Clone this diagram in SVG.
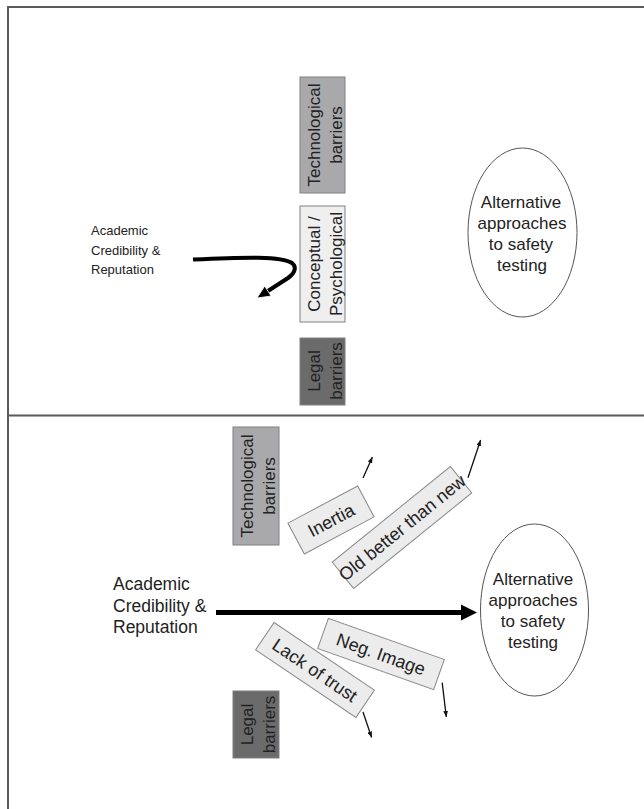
<svg xmlns="http://www.w3.org/2000/svg" width="644" height="809" viewBox="0 0 644 809">
<style>
text{font-family:"Liberation Sans",Arial,sans-serif;fill:#222}
.frame{fill:none;stroke:#5a5a5a;stroke-width:2}
.bar{stroke:#808080;stroke-width:1}
.tech{fill:#a9a9ab}
.concept{fill:#efefef}
.legal{fill:#6b6b6b}
.tag{fill:#ececec;stroke:#8a8a8a;stroke-width:1}
.oval{fill:#fff;stroke:#555;stroke-width:1}
.lbl17{font-size:17px}
.lbl18{font-size:18px}
.thin{fill:none;stroke:#111;stroke-width:1.3}
</style>
<defs>
<marker id="sa" viewBox="0 0 10 8" refX="10" refY="4" markerWidth="6" markerHeight="4.8" markerUnits="userSpaceOnUse" orient="auto">
<path d="M0,0 L10,4 L0,8 Z" fill="#111"/>
</marker>
</defs>
<rect width="644" height="809" fill="#fff"/>
<rect class="frame" x="8" y="7" width="700" height="880"/>
<line class="frame" x1="8" y1="415.5" x2="644" y2="415.5"/>

<g id="top-academic">
<text style="font-size:13px" x="91" y="235">Academic</text>
<text style="font-size:13px" x="91" y="255">Credibility &amp;</text>
<text style="font-size:13px" x="91" y="274">Reputation</text>
</g>
<g id="top-tech">
<rect class="bar tech" x="300" y="77" width="45" height="116"/>
<text class="lbl17" text-anchor="middle" transform="translate(319.5,135) rotate(-90)">Technological</text>
<text class="lbl17" text-anchor="middle" transform="translate(342,135) rotate(-90)">barriers</text>
</g>
<g id="top-concept">
<rect class="bar concept" x="300" y="206" width="45" height="116"/>
<text class="lbl17" text-anchor="middle" transform="translate(319.5,264) rotate(-90)">Conceptual /</text>
<text class="lbl17" text-anchor="middle" transform="translate(342,264) rotate(-90)">Psychological</text>
</g>
<g id="top-legal">
<rect class="bar legal" x="300" y="338" width="45" height="67"/>
<text class="lbl17" text-anchor="middle" transform="translate(319.5,371) rotate(-90)">Legal</text>
<text class="lbl17" text-anchor="middle" transform="translate(342,371) rotate(-90)">barriers</text>
</g>
<g id="top-alt">
<ellipse class="oval" cx="522.5" cy="232.5" rx="54.5" ry="84.5"/>
<text class="lbl17" text-anchor="middle" x="521" y="208">Alternative</text>
<text class="lbl17" text-anchor="middle" x="522" y="229">approaches</text>
<text class="lbl17" text-anchor="middle" x="521" y="250">to safety</text>
<text class="lbl17" text-anchor="middle" x="522" y="271">testing</text>
</g>

<g id="bot-academic">
<text style="font-size:17.5px" x="113" y="590">Academic</text>
<text style="font-size:17.5px" x="113" y="611.5">Credibility &amp;</text>
<text style="font-size:17.5px" x="113" y="632.5">Reputation</text>
</g>
<g id="bot-tech">
<rect class="bar tech" x="233" y="427" width="46" height="118"/>
<text class="lbl17" text-anchor="middle" transform="translate(252.5,486) rotate(-90)">Technological</text>
<text class="lbl17" text-anchor="middle" transform="translate(275,486) rotate(-90)">barriers</text>
</g>
<g id="bot-legal">
<rect class="bar legal" x="233" y="691" width="46" height="67"/>
<text class="lbl17" text-anchor="middle" transform="translate(252.5,724.5) rotate(-90)">Legal</text>
<text class="lbl17" text-anchor="middle" transform="translate(275,724.5) rotate(-90)">barriers</text>
</g>
<g id="inertia" transform="translate(331,520) rotate(-28)">
<rect class="tag" x="-39.5" y="-17.5" width="79" height="35"/>
<text class="lbl18" text-anchor="middle" x="0" y="6.5">Inertia</text>
</g>
<g id="old-better" transform="translate(402,527.5) rotate(-39)">
<rect class="tag" x="-76" y="-17" width="152" height="34"/>
<text class="lbl18" text-anchor="middle" x="0" y="6.5">Old better than new</text>
</g>
<g id="neg-image" transform="translate(381,654) rotate(19.5)">
<rect class="tag" x="-61.5" y="-16" width="123" height="32"/>
<text class="lbl18" text-anchor="middle" x="0" y="6.5">Neg. Image</text>
</g>
<g id="lack-trust" transform="translate(315,670) rotate(34)">
<rect class="tag" x="-60.5" y="-16.5" width="121" height="33"/>
<text class="lbl18" text-anchor="middle" x="0" y="6.5">Lack of trust</text>
</g>
<g id="bot-alt">
<ellipse class="oval" cx="534.5" cy="610" rx="54" ry="86"/>
<text class="lbl17" text-anchor="middle" x="533" y="585">Alternative</text>
<text class="lbl17" text-anchor="middle" x="533" y="606">approaches</text>
<text class="lbl17" text-anchor="middle" x="533" y="627">to safety</text>
<text class="lbl17" text-anchor="middle" x="533" y="648">testing</text>
</g>

<g id="connectors">
<path d="M193,259.5 C245,257 282,256 292,263 C297,267 295,273 288,278 L267.9,291" fill="none" stroke="#000" stroke-width="4"/>
<polygon points="257,298 264.7,286 271.1,296" fill="#000" stroke="#fff" stroke-width="0.8"/>
<line x1="216" y1="612.5" x2="463" y2="612.5" stroke="#000" stroke-width="5"/>
<polygon points="461,604.5 477,612.5 461,620.5" fill="#000"/>
<line class="thin" x1="363" y1="478" x2="372.4" y2="457" marker-end="url(#sa)"/>
<line class="thin" x1="468" y1="477.7" x2="480.6" y2="440" marker-end="url(#sa)"/>
<line class="thin" x1="442.2" y1="682.7" x2="446.3" y2="717" marker-end="url(#sa)"/>
<line class="thin" x1="363" y1="712" x2="371.6" y2="737.5" marker-end="url(#sa)"/>
</g>
</svg>
